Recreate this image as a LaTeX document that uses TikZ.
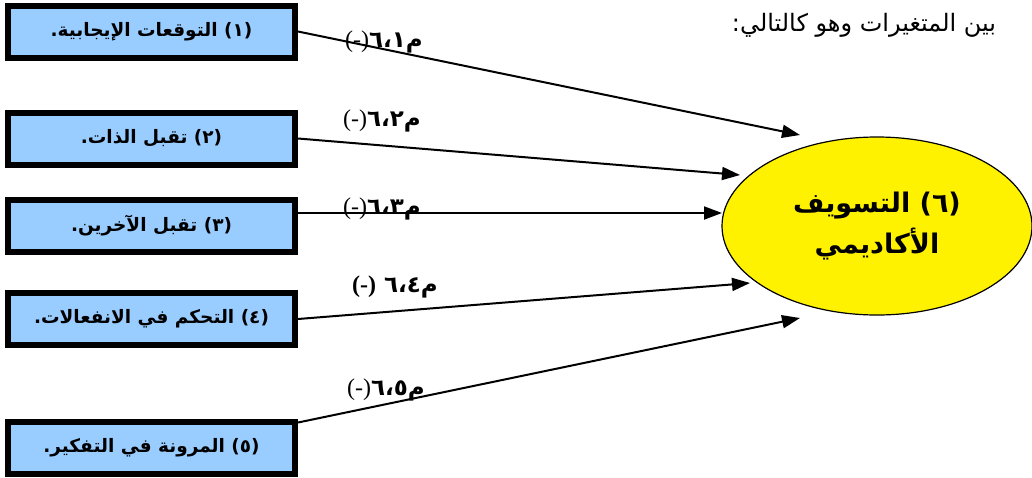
\documentclass[tikz,border=0pt]{standalone}
\usepackage{fontspec}
\setmainfont{Liberation Serif}
\newfontfamily\arabicfont[Script=Arabic]{DejaVu Sans}
\TeXXeTstate=1
\usetikzlibrary{arrows.meta, shapes.geometric}
\definecolor{boxblue}{RGB}{153,204,255}
\newcommand{\sgnfont}{\normalfont\fontsize{24}{26}\selectfont}
\tikzset{
  varbox/.style  ={draw, line width=6pt, fill=boxblue, minimum width=287pt, minimum height=52pt, inner sep=0pt,
                   font=\arabicfont\bfseries\fontsize{18.5}{22}\selectfont},
  depvar/.style  ={draw, ellipse, fill=yellow, line width=1.2pt, minimum width=310pt, minimum height=178pt, inner sep=0pt,
                   align=center, font=\arabicfont\bfseries\fontsize{27}{41}\selectfont},
  effect/.style  ={-{Triangle[length=18pt, width=13pt]}, line width=2pt},   % independent -> dependent
  coef/.style    ={font=\arabicfont\bfseries\fontsize{23}{26}\selectfont, inner sep=0pt},
  intro/.style   ={font=\arabicfont\fontsize{24}{27}\selectfont, inner sep=0pt},
}
\begin{document}
\begin{tikzpicture}[x=1pt, y=-1pt]
  \useasboundingbox (0,0) rectangle (1032,477);
  % heading line of the page
  \node[intro] (head) at (864,25) {\beginR بين المتغيرات وهو كالتالي:\endR};

  % LEFT: the five independent variables
  \node[varbox] (b1) at (151.5,31.5)  {\beginR(١) التوقعات الإيجابية.\endR};
  \node[varbox] (b2) at (151.5,138.5) {\beginR(٢) تقبل الذات.\endR};
  \node[varbox] (b3) at (151.5,226)   {\beginR(٣) تقبل الآخرين.\endR};
  \node[varbox] (b4) at (151.5,319)   {\beginR(٤) التحكم في الانفعالات.\endR};
  \node[varbox] (b5) at (151.5,447.5) {\beginR(٥) المرونة في التفكير.\endR};

  % RIGHT: the dependent variable
  \node[depvar] (av) at (877,226) {\beginR(٦) التسويف\endR\\\beginR الأكاديمي\endR};

  % arrow tips stop short of the ellipse
  \coordinate (e1) at (800,135);
  \coordinate (e2) at (740,175);
  \coordinate (e3) at (722,213);
  \coordinate (e4) at (750,283);
  \coordinate (e5) at (800,318);

  \draw[effect] (b1.east) -- (e1);
  \draw[effect] (b2.east) -- (e2);
  \draw[effect] ([yshift=13pt]b3.east) -- (e3);
  \draw[effect] (b4.east) -- (e4);
  \draw[effect] ([yshift=25pt]b5.east) -- (e5);

  % path coefficients
  \node[coef] (l1) at (384,42)  {\beginR م٦،١{\sgnfont(-)}\endR};
  \node[coef] (l2) at (382,121) {\beginR م٦،٢{\sgnfont(-)}\endR};
  \node[coef] (l3) at (382,209) {\beginR م٦،٣{\sgnfont(-)}\endR};
  \node[coef] (l4) at (395,287) {\beginR م٦،٤\ {\sgnfont\bfseries(-)}\endR};
  \node[coef] (l5) at (386,390) {\beginR م٦،٥{\sgnfont(-)}\endR};
\end{tikzpicture}
\end{document}
